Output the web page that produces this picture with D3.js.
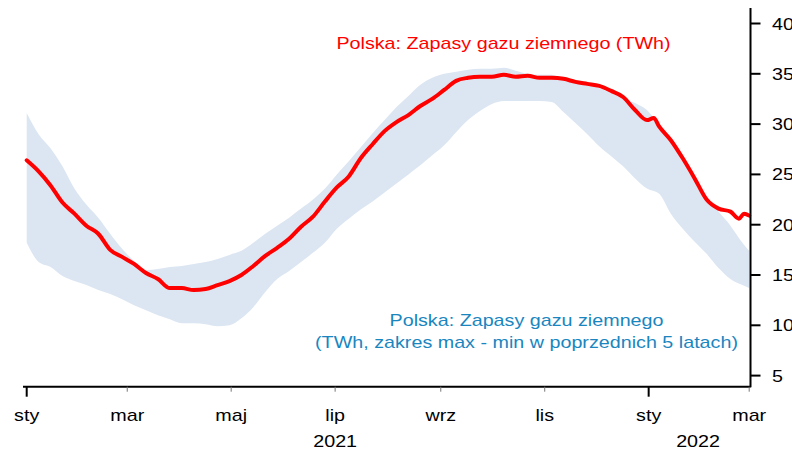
<!DOCTYPE html>
<html><head><meta charset="utf-8">
<script src="https://cdn.jsdelivr.net/npm/d3@7"></script>
<style>body{margin:0;background:#fff}svg{display:block}text{font-family:"Liberation Sans",Arial,sans-serif}</style>
</head><body>
<svg id="c" width="792" height="450"></svg>
<script>
// ---- data ----
const bandDates = ["2021-01-01","2021-01-08","2021-01-15","2021-01-22","2021-01-29","2021-02-05","2021-02-12","2021-02-19","2021-02-26","2021-03-05","2021-03-12","2021-03-19","2021-03-26","2021-04-02","2021-04-09","2021-04-16","2021-04-23","2021-04-30","2021-05-07","2021-05-14","2021-05-21","2021-05-28","2021-06-04","2021-06-11","2021-06-18","2021-06-25","2021-07-02","2021-07-09","2021-07-16","2021-07-23","2021-07-30","2021-08-06","2021-08-13","2021-08-20","2021-08-27","2021-09-03","2021-09-10","2021-09-17","2021-09-24","2021-10-01","2021-10-08","2021-10-15","2021-10-22","2021-10-29","2021-11-05","2021-11-12","2021-11-19","2021-11-26","2021-12-03","2021-12-10","2021-12-17","2021-12-24","2021-12-31","2022-01-07","2022-01-14","2022-01-21","2022-01-28","2022-02-04","2022-02-11","2022-02-18","2022-02-25","2022-03-01"];
const bandMax = [31.1,29.0,27.6,25.8,23.6,22.0,20.7,19.1,17.6,16.4,15.5,15.6,15.8,15.9,16.1,16.3,16.6,17.0,17.4,18.2,19.1,19.9,20.7,21.6,22.5,23.6,25.0,26.3,27.7,29.1,30.4,31.7,32.8,33.9,34.6,35.0,35.2,35.4,35.5,35.5,35.6,35.3,35.0,34.9,34.9,34.5,34.1,33.9,33.6,33.1,32.6,32.1,31.4,29.9,28.1,26.4,24.6,22.8,21.3,19.9,18.2,17.4];
const bandMin = [18.2,16.3,15.8,14.9,14.4,14.0,13.5,13.1,12.6,12.0,11.5,11.0,10.6,10.2,10.2,10.1,9.9,10.0,10.7,11.8,13.3,14.6,15.4,16.3,17.2,18.2,19.6,20.6,21.5,22.3,23.2,24.1,25.0,25.9,26.9,27.9,29.2,30.4,31.3,32.0,32.3,32.3,32.3,32.3,32.2,31.2,30.1,29.0,27.8,26.8,25.8,24.6,23.6,23.1,21.1,19.6,18.3,17.1,15.7,14.6,14.0,13.7];

const lineDates = ["2021-01-01","2021-01-08","2021-01-15","2021-01-22","2021-01-29","2021-02-05","2021-02-12","2021-02-19","2021-02-26","2021-03-05","2021-03-12","2021-03-19","2021-03-26","2021-04-02","2021-04-09","2021-04-16","2021-04-23","2021-04-30","2021-05-07","2021-05-14","2021-05-21","2021-05-28","2021-06-04","2021-06-11","2021-06-18","2021-06-25","2021-07-02","2021-07-09","2021-07-16","2021-07-23","2021-07-30","2021-08-06","2021-08-13","2021-08-20","2021-08-27","2021-09-03","2021-09-10","2021-09-17","2021-09-24","2021-10-01","2021-10-08","2021-10-15","2021-10-22","2021-10-29","2021-11-05","2021-11-12","2021-11-19","2021-11-26","2021-12-03","2021-12-10","2021-12-17","2021-12-24","2021-12-31","2022-01-04","2022-01-07","2022-01-14","2022-01-21","2022-01-28","2022-02-04","2022-02-11","2022-02-18","2022-02-23","2022-02-26","2022-03-01"];
const lineValues = [26.4,25.3,23.9,22.2,21.1,19.9,19.1,17.5,16.8,16.1,15.2,14.6,13.7,13.7,13.5,13.6,14.0,14.4,15.0,15.9,16.9,17.7,18.6,19.8,20.8,22.3,23.7,24.8,26.6,28.0,29.3,30.2,30.9,31.8,32.5,33.4,34.3,34.6,34.7,34.7,34.9,34.7,34.8,34.6,34.6,34.5,34.2,34.0,33.8,33.3,32.7,31.4,30.4,30.6,29.8,28.4,26.6,24.6,22.5,21.6,21.3,20.6,21.1,20.9];

const xTickDates = ["2021-01-01","2021-03-01","2021-05-01","2021-07-01","2021-09-01","2021-11-01","2022-01-01","2022-03-01"];
const xTickLabels = ["sty","mar","maj","lip","wrz","lis","sty","mar"];
const yearLabels = ["2021","2022"];
const yearCenters = ["2021-07-01","2022-01-30"];
const yTicks = [5,10,15,20,25,30,35,40];

const titleLine = "Polska: Zapasy gazu ziemnego (TWh)";
const bandLabel = ["Polska: Zapasy gazu ziemnego","(TWh, zakres max - min w poprzednich 5 latach)"];

// ---- chart ----
const parse = d3.timeParse("%Y-%m-%d");
const svg = d3.select("#c");
const SX = 1.16;
const x = d3.scaleTime().domain([parse("2021-01-01"), parse("2022-03-01")]).range([26.7, 749.2]);
const y = d3.scaleLinear().domain([5, 40]).range([375.6, 23.5]);
const axisX = 750.5, axisY = 386.7;

const band = bandDates.map((d,i)=>({d:parse(d), hi:bandMax[i], lo:bandMin[i]}));
svg.append("path").datum(band)
  .attr("fill","#dce6f2")
  .attr("d", d3.area().x(d=>x(d.d)).y0(d=>y(d.lo)).y1(d=>y(d.hi)).curve(d3.curveMonotoneX));

const line = lineDates.map((d,i)=>({d:parse(d), v:lineValues[i]}));
svg.append("path").datum(line)
  .attr("fill","none").attr("stroke","#ff0000").attr("stroke-width",4)
  .attr("stroke-linejoin","round").attr("stroke-linecap","round")
  .attr("d", d3.line().x(d=>x(d.d)).y(d=>y(d.v)).curve(d3.curveMonotoneX));

function stext(g, tx, ty, str, fill, anchor){
  return g.append("text").attr("transform",`translate(${tx},${ty}) scale(${SX},1)`)
    .attr("text-anchor",anchor||"middle").attr("fill",fill||"#000")
    .attr("font-size",17).text(str);
}

// x axis
const gx = svg.append("g");
gx.append("line").attr("x1",23).attr("x2",axisX).attr("y1",axisY).attr("y2",axisY)
  .attr("stroke","#000").attr("stroke-width",2);
xTickDates.forEach((s,i)=>{
  const d = parse(s), px = x(d), major = d.getMonth()===0;
  gx.append("line").attr("x1",px).attr("x2",px).attr("y1",axisY).attr("y2",axisY+(major?10:5))
    .attr("stroke", major?"#000":"#777").attr("stroke-width", major?2:1);
  stext(gx, px, 421, xTickLabels[i]);
});
yearLabels.forEach((s,i)=> stext(gx, x(parse(yearCenters[i])), 447, s));

// y axis (right)
const gy = svg.append("g");
gy.append("line").attr("x1",axisX).attr("x2",axisX).attr("y1",8).attr("y2",axisY+0.5)
  .attr("stroke","#000").attr("stroke-width",2);
yTicks.forEach(v=>{
  gy.append("line").attr("x1",axisX).attr("x2",axisX+10).attr("y1",y(v)).attr("y2",y(v))
    .attr("stroke","#000").attr("stroke-width",2);
  stext(gy, 772, y(v)+6, String(v), "#000", "start");
});

// labels
stext(svg, 503.5, 48.5, titleLine, "#ff0000");
stext(svg, 526.5, 326, bandLabel[0], "#1a86c0");
stext(svg, 526.5, 348, bandLabel[1], "#1a86c0");
</script>
</body></html>
